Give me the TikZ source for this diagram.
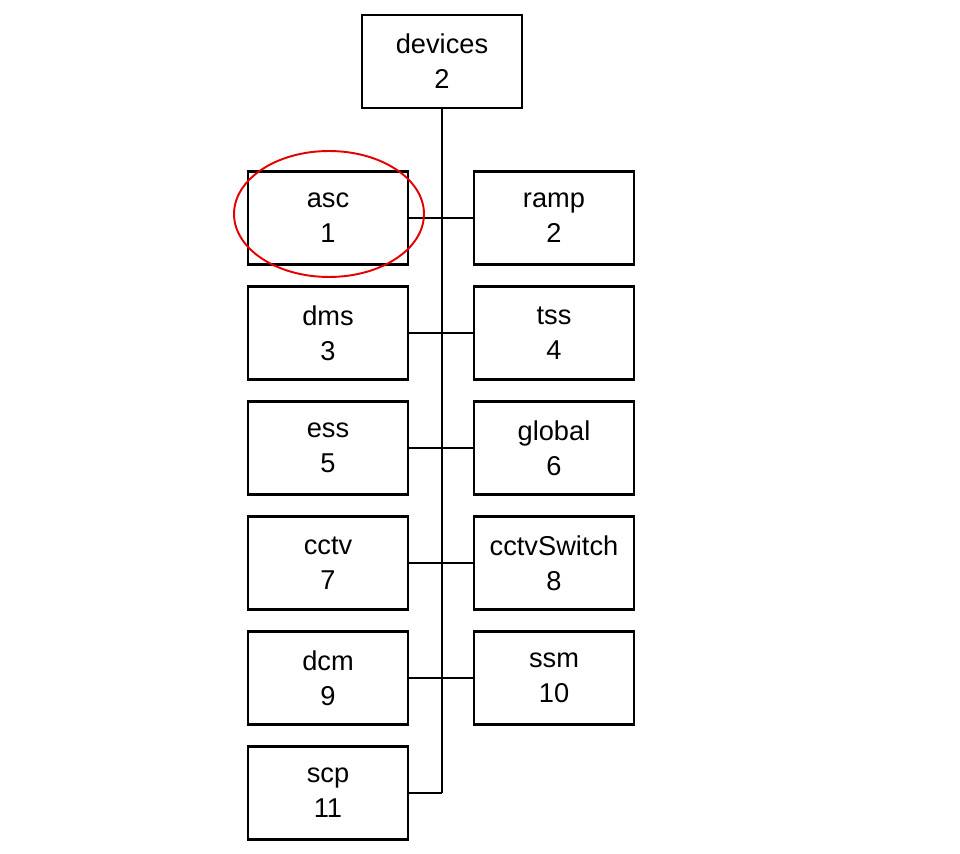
\documentclass[tikz,border=0pt]{standalone}
\usepackage{fontspec}
\setmainfont{Liberation Sans}
\usepackage{tikz}

\begin{document}
\begin{tikzpicture}[x=0.02cm,y=-0.02cm]
            \useasboundingbox (0,0) rectangle (960,854);
            \begin{scope}[every node/.style={draw=black,line width=1.2pt,minimum width=3.2cm,minimum height=1.86cm,align=center,font=\fontsize{15.5}{19.8}\selectfont}]
                \node (devices) at (442,61.5) {devices\\2};

                \node (asc) at (328,218) {asc\\1};
                \node (ramp) at (554,218) {ramp\\2};

                \node (dms) at (328,333) {dms\\3};
                \node (tss) at (554,333) {tss\\4};

                \node (ess) at (328,448) {ess\\5};
                \node (global) at (554,448) {global\\6};

                \node (cctv) at (328,563) {cctv\\7};
                \node (cctvSwitch) at (554,563) {cctvSwitch\\8};

                \node (dcm) at (328,678) {dcm\\9};
                \node (ssm) at (554,678) {ssm\\10};

                \node (scp) at (328,793) {scp\\11};
            \end{scope}
            \coordinate (end) at (442,793);
            \begin{scope}[every edge/.style={draw,line width=1.2pt}]
                \path [-] (devices) edge node {} (end);

                \path [-] (asc) edge node {} (ramp);
                \path [-] (dms) edge node {} (tss);
                \path [-] (ess) edge node {} (global);
                \path [-] (cctv) edge node {} (cctvSwitch);
                \path [-] (dcm) edge node {} (ssm);
                \path [-] (scp) edge node {} (end);
            \end{scope}
            \draw[red!90!black,line width=1.1pt] (329,214) ellipse [x radius=1.9cm,y radius=1.26cm];
        \end{tikzpicture}
\end{document}
